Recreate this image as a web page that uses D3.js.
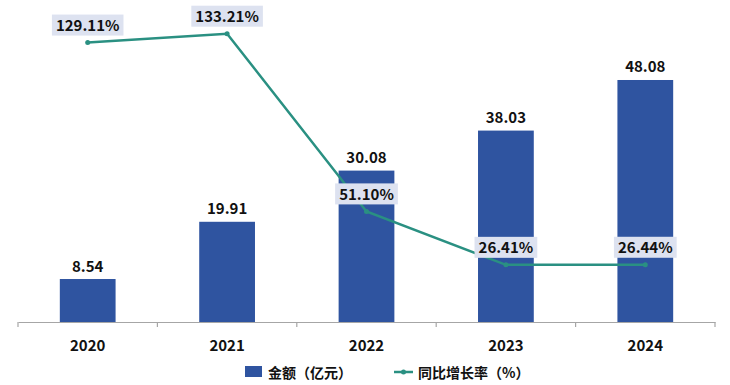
<!DOCTYPE html>
<html>
<head>
<meta charset="utf-8">
<script src="https://cdn.jsdelivr.net/npm/d3@7"></script>
<style>
  body { margin: 0; background: #fff; }
  svg { display: block; font-family: "Noto Sans CJK SC", "Noto Sans", sans-serif; }
</style>
</head>
<body>
<svg id="chart" width="730" height="385"></svg>
<script>
// chart data
const years = ["2020", "2021", "2022", "2023", "2024"];
const amount = [8.54, 19.91, 30.08, 38.03, 48.08];        // 金额（亿元）
const growth = [129.11, 133.21, 51.10, 26.41, 26.44];     // 同比增长率（%）
const legendNames = ["金额（亿元）", "同比增长率（%）"];

const W = 730, H = 385;
const margin = {top: 20, right: 15, bottom: 63, left: 18};
const barColor = "#2f54a0", lineColor = "#2a9082", boxColor = "#dde2f0";

const svg = d3.select("#chart");

// faint watermarks
const marks = [[155,90],[155,195],[155,298],[392,40],[395,145],[395,250],[395,352],[590,95],[590,205],[590,315]];
svg.append("g").selectAll("text").data(marks).join("text")
  .attr("transform", d => `translate(${d[0]},${d[1]}) rotate(-20)`)
  .attr("text-anchor", "middle").attr("dominant-baseline", "central")
  .attr("font-size", 24).attr("font-weight", "bold")
  .attr("fill", "#000").attr("fill-opacity", 0.025)
  .text("医药地理");

const x = d3.scaleBand().domain(years).range([margin.left, W - margin.right]).paddingInner(0).paddingOuter(0);
const yBar = d3.scaleLinear().domain([0, 60]).range([H - margin.bottom, margin.top]);
const yLine = d3.scaleLinear().domain([0, 140]).range([H - margin.bottom, margin.top - 1]);
const bw = x.bandwidth() * 0.4;

// bars
svg.append("g").selectAll("rect").data(amount).join("rect")
  .attr("x", (d, i) => x(years[i]) + x.bandwidth() / 2 - bw / 2)
  .attr("y", d => yBar(d))
  .attr("width", bw)
  .attr("height", d => yBar(0) - yBar(d))
  .attr("fill", barColor);

// bar value labels
svg.append("g").selectAll("text").data(amount).join("text")
  .attr("x", (d, i) => x(years[i]) + x.bandwidth() / 2)
  .attr("y", d => yBar(d) - 14)
  .attr("text-anchor", "middle").attr("dominant-baseline", "central")
  .attr("font-size", 15).attr("font-weight", "bold").attr("fill", "#111")
  .text(d => d.toFixed(2));

// x axis
const xAxis = svg.append("g")
  .attr("transform", `translate(0,${H - margin.bottom})`)
  .call(d3.axisBottom(x).tickSize(0).tickPadding(18));
xAxis.select(".domain").attr("stroke", "#a6a6a6").attr("stroke-width", 1.2);
xAxis.selectAll(".tick text").attr("font-size", 15).attr("font-weight", "bold").attr("fill", "#111")
  .attr("font-family", "\"Noto Sans CJK SC\", sans-serif");
// boundary ticks between categories
const bounds = years.map(y => x(y)).concat([x(years[years.length - 1]) + x.bandwidth()]);
xAxis.selectAll(".bound").data(bounds).join("line").attr("class", "bound")
  .attr("x1", d => d).attr("x2", d => d).attr("y1", 0).attr("y2", 5)
  .attr("stroke", "#a6a6a6").attr("stroke-width", 1.2);

// growth line
const line = d3.line()
  .x((d, i) => x(years[i]) + x.bandwidth() / 2)
  .y(d => yLine(d));
svg.append("path").datum(growth)
  .attr("d", line).attr("fill", "none")
  .attr("stroke", lineColor).attr("stroke-width", 2.5);
svg.append("g").selectAll("circle").data(growth).join("circle")
  .attr("cx", (d, i) => x(years[i]) + x.bandwidth() / 2)
  .attr("cy", d => yLine(d)).attr("r", 2.5).attr("fill", lineColor);

// growth labels with boxes
const gl = svg.append("g").selectAll("g").data(growth).join("g")
  .attr("transform", (d, i) => `translate(${x(years[i]) + x.bandwidth() / 2},${yLine(d) - 18})`);
gl.append("text")
  .attr("text-anchor", "middle").attr("dominant-baseline", "central")
  .attr("font-size", 15).attr("font-weight", "bold").attr("fill", "#111")
  .text(d => d.toFixed(2) + "%");
gl.each(function() {
  const g = d3.select(this);
  const b = g.select("text").node().getBBox();
  g.insert("rect", "text")
    .attr("x", b.x - 4).attr("y", -10)
    .attr("width", b.width + 8).attr("height", 21)
    .attr("fill", boxColor);
});

// legend
const leg = svg.append("g").attr("transform", `translate(0,${H - 13})`);
leg.append("rect").attr("x", 245).attr("y", -6).attr("width", 17).attr("height", 11).attr("fill", barColor);
leg.append("text").attr("x", 268).attr("y", 0).attr("dominant-baseline", "central")
  .attr("font-size", 14).attr("font-weight", "bold").attr("fill", "#111").text(legendNames[0]);
leg.append("line").attr("x1", 394).attr("x2", 413).attr("y1", 0).attr("y2", 0)
  .attr("stroke", lineColor).attr("stroke-width", 2.5);
leg.append("circle").attr("cx", 403.5).attr("cy", 0).attr("r", 2.5).attr("fill", lineColor);
leg.append("text").attr("x", 418).attr("y", 0).attr("dominant-baseline", "central")
  .attr("font-size", 14).attr("font-weight", "bold").attr("fill", "#111").text(legendNames[1]);
</script>
</body>
</html>
